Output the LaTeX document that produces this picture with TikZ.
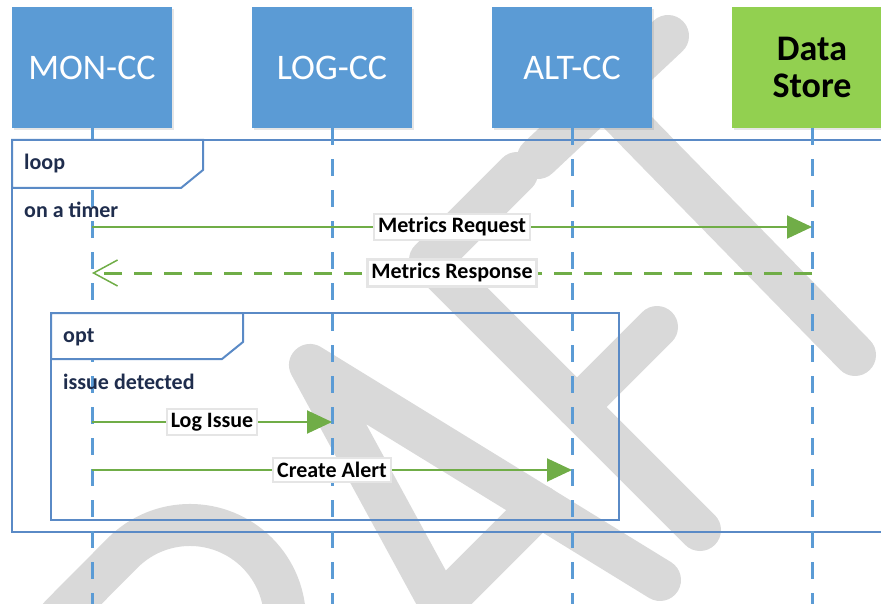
\documentclass[tikz,border=0pt]{standalone}
\usepackage{fontspec}
\setmainfont{Carlito}
\usetikzlibrary{arrows.meta,shadows}

\definecolor{boxblue}{HTML}{5B9BD5}
\definecolor{boxgreen}{HTML}{92D050}
\definecolor{msggreen}{HTML}{70AD47}
\definecolor{framecol}{HTML}{5A8AC6}
\definecolor{labelcol}{HTML}{1F2D4D}
\definecolor{wmgray}{HTML}{D9D9D9}

\begin{document}
\begin{tikzpicture}[x=1pt, y=-1pt,
		participant/.style={fill=boxblue, minimum width=160pt, minimum height=121pt,
			inner sep=0pt, text=white, font=\fontsize{36}{38}\selectfont,
			drop shadow={opacity=.2, shadow xshift=2pt, shadow yshift=-2pt}},
		datastore/.style={participant, fill=boxgreen, text=black, align=center,
			font=\fontsize{36}{37}\selectfont\bfseries},
		lifeline/.style={boxblue, line width=3pt, dash pattern=on 17pt off 14pt},
		fragment/.style={draw=framecol, line width=2pt},
		fragtab/.style={fragment, fill=white},
		guardtext/.style={anchor=base west, inner sep=0pt, text=labelcol,
			font=\fontsize{22}{24}\selectfont\bfseries},
		msg/.style={msggreen, line width=2pt, -{Triangle[length=25pt, width=23pt]}},
		reply/.style={msggreen, line width=3pt, dash pattern=on 18pt off 12pt,
			-{Straight Barb[length=24pt, width=26pt, line width=1.5pt]}},
		msglabel/.style={solid, fill=white, draw=black!10, inner xsep=4pt, inner ysep=4pt,
			text=black, font=\fontsize{22}{24}\selectfont\bfseries},
		wmstroke/.style={wmgray, line width=42pt, line cap=round, line join=round} ]
	\useasboundingbox (0,0) rectangle (881,604);
	\clip (0,0) rectangle (881,604);

	% draft watermark, drawn first so everything sits on top of it
	\draw [wmstroke] (60,616) -- (122.8,552.8) arc [start angle=225, end angle=405, radius=95];
	\draw [wmstroke] (506,725) -- (310,365) -- (660,580);
	\draw [wmstroke] (441,605) -- (540,506);
	\draw [wmstroke] (517,173) -- (430,260) -- (700,530);
	\draw [wmstroke] (577,407) -- (657,327);
	\draw [wmstroke] (538,158) -- (668,36);
	\draw [wmstroke] (603,97) -- (855,355);

	% participants
	\node [participant] (mon) at (92,67.5) {MON-CC};
	\node [participant] (log) at (332,67.5) {LOG-CC};
	\node [participant] (alt) at (572,67.5) {ALT-CC};
	\node [datastore] (store) at (812,67.5) {Data\\Store};

	% combined fragments
	\draw [fragment] (12,140) rectangle (900,532);
	\draw [fragment] (51,313) rectangle (619,520);

	\foreach \p in {mon,log,alt,store}
		\draw [lifeline] (\p.south) -- (\p.south |- 0,604);

	\draw [fragtab] (12,140) -- (203,140) -- (203,170) -- (181,188) -- (12,188) -- cycle;
	\draw [fragtab] (51,313) -- (243,313) -- (243,342) -- (222,359) -- (51,359) -- cycle;
	\node [guardtext] (loop) at (24,170) {loop};
	\node [guardtext] (timer) at (24,218) {on a timer};
	\node [guardtext] (opt) at (63,342) {opt};
	\node [guardtext] (issue) at (63,389) {issue detected};

	% messages
	\draw [msg] (mon.south |- 0,227) -- node [msglabel] {Metrics Request} (store.south |- 0,227);
	\draw [reply] (store.south |- 0,273) -- node [msglabel] {Metrics Response} (mon.south |- 0,273);
	\draw [msg] (mon.south |- 0,422) -- node [msglabel] {Log Issue} (log.south |- 0,422);
	\draw [msg] (mon.south |- 0,470) -- node [msglabel] {Create Alert} (alt.south |- 0,470);
\end{tikzpicture}
\end{document}
